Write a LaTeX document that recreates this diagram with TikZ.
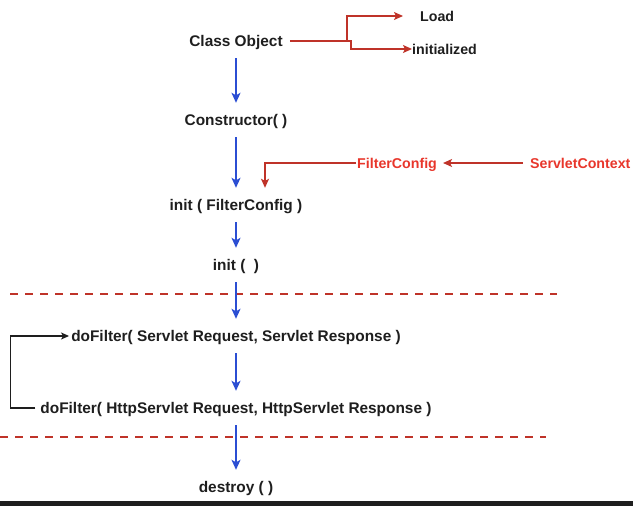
\documentclass[tikz,border=0pt]{standalone}
\usepackage{fontspec}
\setmainfont{Liberation Sans}
\usetikzlibrary{arrows.meta}
\definecolor{flowblue}{HTML}{2B4ED3}
\definecolor{linered}{HTML}{BF3329}
\definecolor{textred}{HTML}{E8362B}
\definecolor{darktext}{HTML}{1E1E1E}
\tikzset{
    stage/.style={font=\fontsize{15.4}{18}\selectfont\bfseries, text=darktext,
        minimum height=34pt, inner xsep=2pt, inner ysep=0pt,
        text height=10.8pt, text depth=0pt},
    tag/.style={font=\fontsize{14.2}{17}\selectfont\bfseries, inner sep=0pt,
        text height=10.2pt, text depth=0pt},
    flow/.style={flowblue, line width=1.4pt, -{Stealth[length=10pt,width=9pt,inset=2.5pt]}},
    feed/.style={linered, line width=1.3pt, -{Stealth[length=9pt,width=8pt,inset=2pt]}},
    cut/.style={linered, line width=2.8pt, dash pattern=on 8pt off 7pt},
}
\begin{document}
\begin{tikzpicture}[x=1pt, y=-1pt]
    \useasboundingbox (0,0) rectangle (633,506);
    \fill[darktext] (0,501) rectangle (633,506);

    \path
        (236,41)  node (classobj) [stage] {Class Object}
        (236,120) node (ctor)     [stage] {Constructor( )}
        (236,205) node (initcfg)  [stage] {init ( FilterConfig )}
        (236,265) node (init)     [stage] {init (\ \ )}
        (236,336) node (dofilter) [stage] {doFilter( Servlet Request, Servlet Response )}
        (236,408) node (dohttp)   [stage] {doFilter( HttpServlet Request, HttpServlet Response )}
        (236,487) node (destroy)  [stage] {destroy ( )}

        (420,16)  node (load)  [tag, anchor=west, text=darktext] {Load}
        (412,49)  node (initd) [tag, anchor=west, text=darktext] {initialized}
        (357,163) node (fcfg)  [tag, anchor=west, text=textred] {FilterConfig}
        (530,163) node (sctx)  [tag, anchor=west, text=textred] {ServletContext};

    \draw[cut] (10,294) -- (557,294);
    \draw[cut] (0,437) -- (546,437);

    \draw[flow] (classobj) -- (ctor);
    \draw[flow] (ctor) -- (initcfg);
    \draw[flow] (initcfg) -- (init);
    \draw[flow] (init) -- (dofilter);
    \draw[flow] (dofilter) -- (dohttp);
    \draw[flow] (dohttp) -- (destroy);

    \coordinate (split) at (347,41);
    \draw[linered, line width=1.3pt] ([xshift=5pt]classobj.east) -- (split);
    \draw[feed] (split) |- ([xshift=-17pt]load.west);
    \draw[feed] (split) -- ++(4,0) |- (initd.west);

    \draw[feed] ([xshift=-7pt]sctx.west) -- ([xshift=6pt]fcfg.east);
    \draw[feed] ([xshift=-1pt]fcfg.west) -| ([xshift=29pt]initcfg.north);

    \draw[darktext, line width=1.3pt, -{Stealth[length=8pt,width=7pt,inset=2pt]}]
        ([xshift=-3pt]dohttp.west) -- ++(-25,0) |- (dofilter.west);
\end{tikzpicture}
\end{document}
